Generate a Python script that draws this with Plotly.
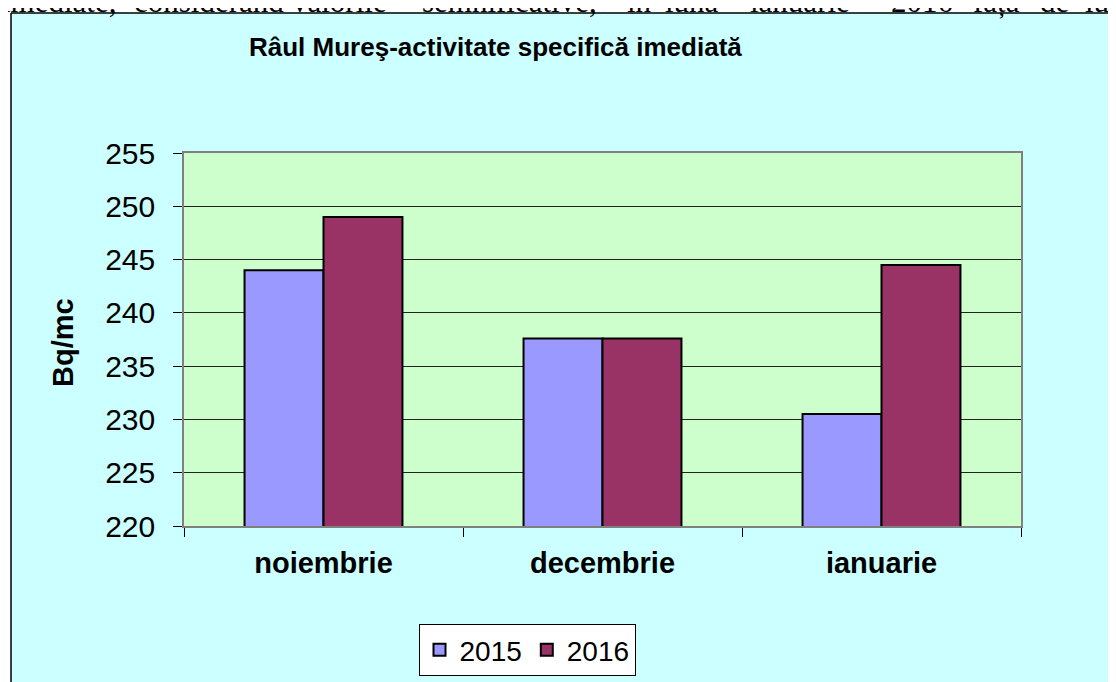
import plotly.graph_objects as go

categories = ["noiembrie", "decembrie", "ianuarie"]
values_2015 = [244.0, 237.6, 230.5]
values_2016 = [249.0, 237.6, 244.5]
series_names = ["2015", "2016"]
y_ticks = [220, 225, 230, 235, 240, 245, 250, 255]

title_text = "Râul Mureş-activitate specifică imediată"
y_title = "Bq/mc"
top_words = ["imediate,", "considerând", "valorile", "semnificative,", "în", "luna",
             "ianuarie", "2016", "față", "de", "luna"]
top_word_px = [0, 132, 290, 420, 624, 663, 748, 889, 971, 1038, 1083]

W, H = 1116, 682
OFF = 8  # page body margin
# plot area in screen pixels
L, R, T, B = 184, 1021, 153, 526


def px_x(p):
    return (p - L) / (R - L)


def px_y(p):
    return (B - p) / (B - T)


fig = go.Figure()
fig.add_trace(go.Bar(x=categories, y=values_2015, name=series_names[0],
                     marker=dict(color="#9999FF", line=dict(color="black", width=2))))
fig.add_trace(go.Bar(x=categories, y=values_2016, name=series_names[1],
                     marker=dict(color="#993366", line=dict(color="black", width=2))))

shapes = [
    dict(type="rect", xref="paper", yref="paper", x0=px_x(-20), x1=px_x(W + 40),
         y0=px_y(13), y1=px_y(-20), fillcolor="white", line=dict(width=0), layer="below"),
    dict(type="rect", xref="paper", yref="paper", x0=px_x(-20), x1=px_x(11),
         y0=px_y(H + 40), y1=px_y(13), fillcolor="white", line=dict(width=0), layer="below"),
    dict(type="line", xref="paper", yref="paper", x0=px_x(11), x1=px_x(W + 40),
         y0=px_y(13), y1=px_y(13), line=dict(color="black", width=1.5)),
    dict(type="line", xref="paper", yref="paper", x0=px_x(11), x1=px_x(11),
         y0=px_y(13), y1=px_y(H + 40), line=dict(color="black", width=1.5)),
]

annotations = [
    dict(text="<b>" + title_text + "</b>", xref="paper", yref="paper",
         x=px_x(495), y=px_y(47), xanchor="center", yanchor="middle", showarrow=False,
         font=dict(family="Liberation Sans, Arial", size=26, color="black")),
    dict(text="<b>" + y_title + "</b>", xref="paper", yref="paper",
         x=px_x(63), y=px_y(342), xanchor="center", yanchor="middle", showarrow=False,
         textangle=-90, font=dict(family="Liberation Sans, Arial", size=29, color="black")),
]
for w, p in zip(top_words, top_word_px):
    annotations.append(dict(text=w, xref="paper", yref="paper", x=px_x(p), y=px_y(2),
                            xanchor="left", yanchor="middle", showarrow=False,
                            font=dict(family="Liberation Serif, Times New Roman", size=31,
                                      color="black")))

fig.update_layout(
    width=W, height=H,
    margin=dict(l=L - OFF, r=W - (R - OFF), t=T - OFF, b=H - (B - OFF), autoexpand=False),
    paper_bgcolor="#CCFFFF",
    plot_bgcolor="#CCFFCC",
    barmode="group", bargap=0.434, bargroupgap=0,
    font=dict(family="Liberation Sans, Arial", color="black"),
    shapes=shapes,
    annotations=annotations,
    showlegend=True,
    legend=dict(orientation="h", x=px_x(527), y=px_y(650), xanchor="center", yanchor="middle",
                bgcolor="white", bordercolor="black", borderwidth=1,
                font=dict(family="Liberation Sans, Arial", size=28, color="black"),
                itemwidth=30, tracegroupgap=0),
    xaxis=dict(showgrid=False, ticks="outside", tickson="boundaries", ticklen=9,
               tickcolor="black", tickwidth=1, showline=True, linecolor="#808080",
               linewidth=1.5, mirror=True,
               tickfont=dict(family="Liberation Sans, Arial", size=29, color="black"),
               ticklabelstandoff=10, tickprefix="<b>", ticksuffix="</b>"),
    yaxis=dict(range=[220, 255], tickvals=y_ticks, showgrid=True, gridcolor="#222222",
               gridwidth=1, ticks="outside", ticklen=9, tickcolor="black", tickwidth=1,
               showline=True, linecolor="#808080", linewidth=1.5, mirror=True,
               zeroline=False,
               tickfont=dict(family="Liberation Sans, Arial", size=30, color="black"),
               ticklabelstandoff=12),
)

fig.write_html("out.html")
